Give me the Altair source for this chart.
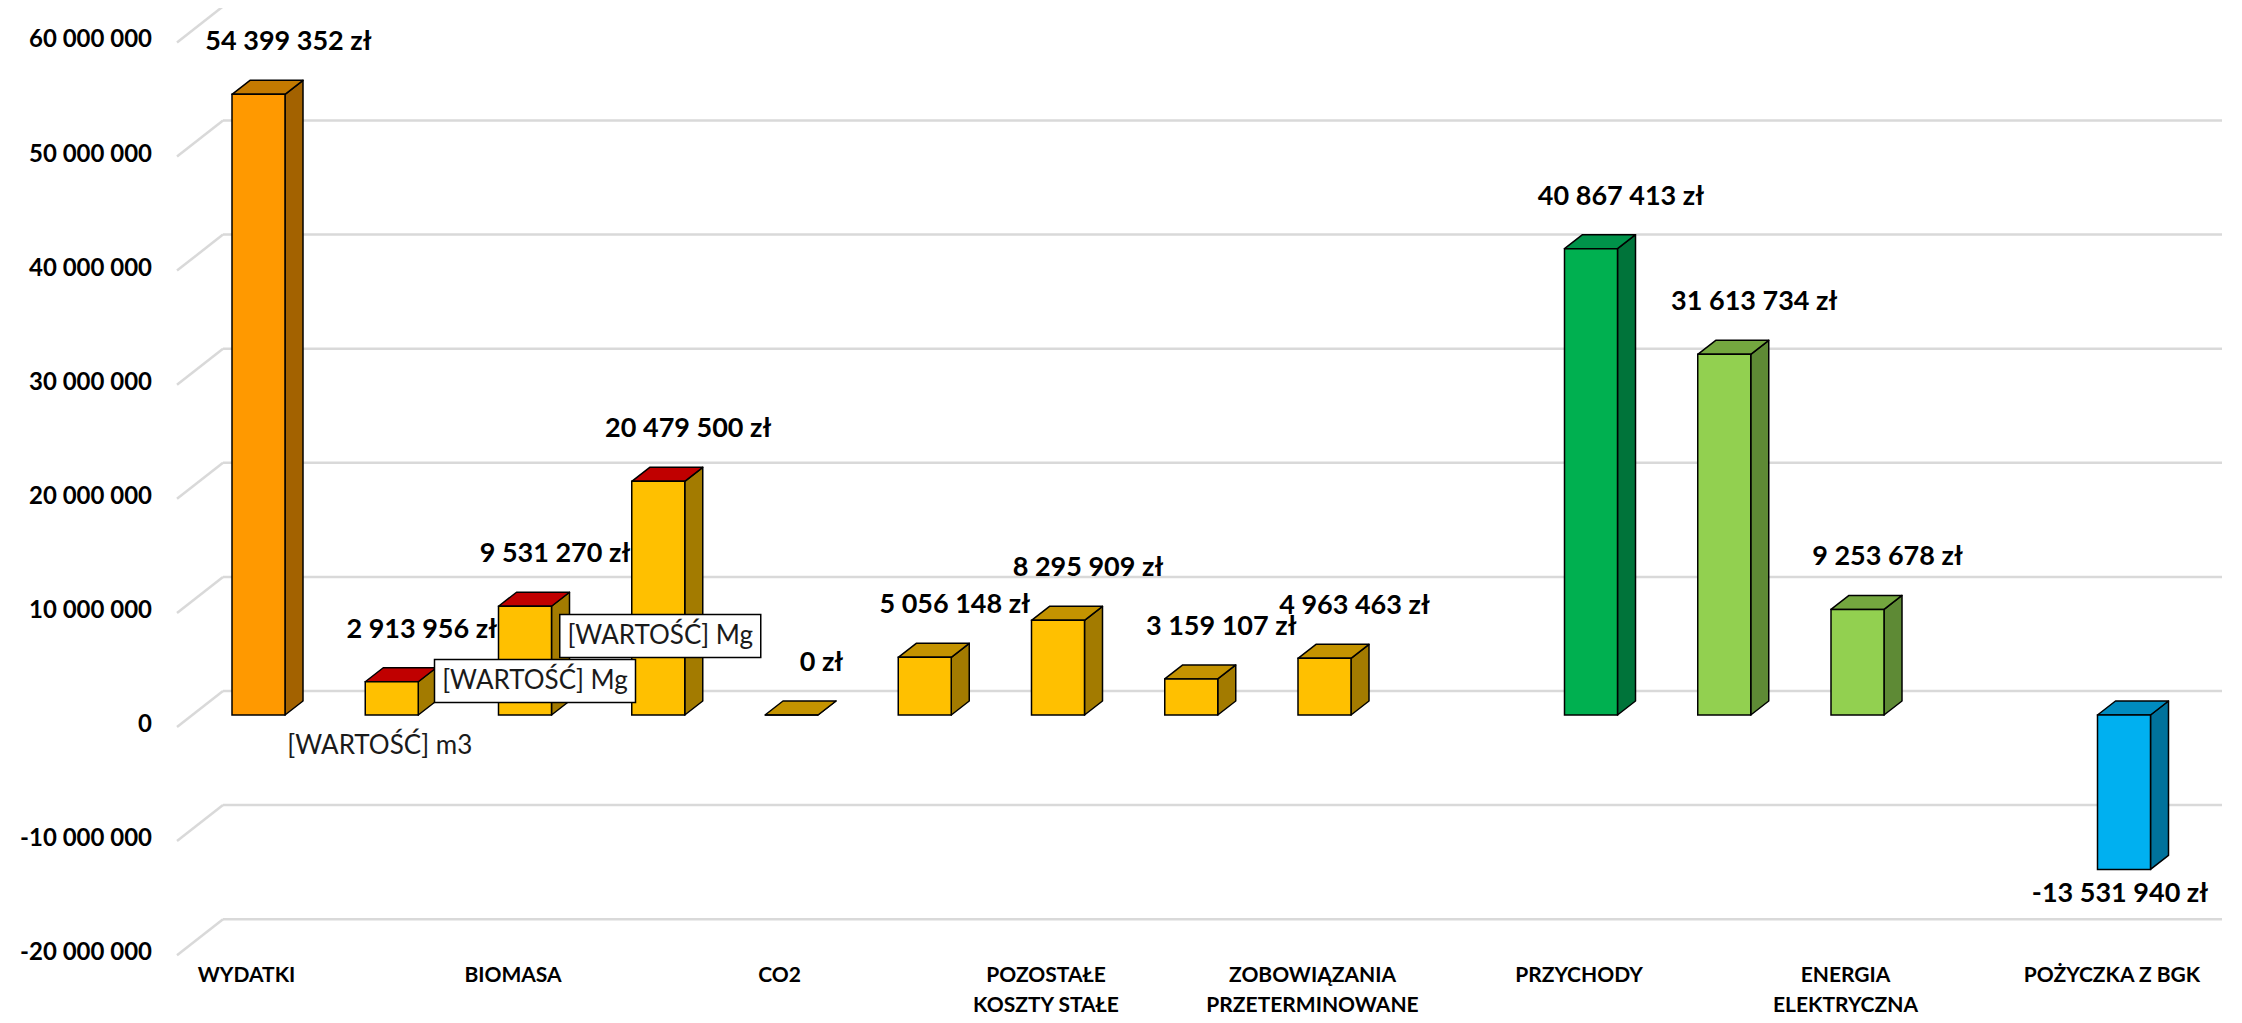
import altair as alt
import pandas as pd

# ---------------- data ----------------
slots = [0, 1, 2, 3, 4, 5, 6, 7, 8, 10, 11, 12, 14]
values = [54399352, 2913956, 9531270, 20479500, 0, 5056148, 8295909,
          3159107, 4963463, 40867413, 31613734, 9253678, -13531940]
groups = ["wydatki", "biomasa", "biomasa", "biomasa", "koszty", "koszty",
          "koszty", "koszty", "koszty", "przychody", "energia", "energia",
          "pozyczka"]

categories = ["WYDATKI", "BIOMASA", "CO2", "POZOSTAŁE\nKOSZTY STAŁE",
              "ZOBOWIĄZANIA\nPRZETERMINOWANE", "PRZYCHODY",
              "ENERGIA\nELEKTRYCZNA", "POŻYCZKA Z BGK"]
category_slots = [0, 2, 4, 6, 8, 10, 12, 14]

y_ticks = [-20000000, -10000000, 0, 10000000, 20000000, 30000000,
           40000000, 50000000, 60000000]

# ---------------- styles ----------------
STYLE = {  # front, side, top
    "wydatki": ("#FF9900", "#A36200", "#C47A00"),
    "biomasa": ("#FFC000", "#A37B00", "#C00000"),
    "koszty": ("#FFC000", "#A37B00", "#C49300"),
    "przychody": ("#00B050", "#00743A", "#00934A"),
    "energia": ("#92D050", "#5E8A35", "#74A73F"),
    "pozyczka": ("#00B0F0", "#00729C", "#008BBF"),
}

W, H = 2226, 1007
PX_SLOT = 133.25          # pixels per slot
PX_UNIT = 11.41e-6        # pixels per zł
ZERO_Y = 707              # plot px of value 0 (front plane)
SLOT0_X = 250.5           # plot px of slot 0
HALF_W = 26.5 / PX_SLOT
DX = 18 / PX_SLOT
DY = 14 / PX_UNIT

XS = alt.Scale(domain=[-SLOT0_X / PX_SLOT, (W - SLOT0_X) / PX_SLOT], nice=False, zero=False)
YS = alt.Scale(domain=[(ZERO_Y - H) / PX_UNIT, ZERO_Y / PX_UNIT], nice=False, zero=False)


def fmt(v):
    s = f"{abs(int(v)):,}".replace(",", " ")
    return ("-" if v < 0 else "") + s


front_rows, side_rows, top_rows, label_rows = [], [], [], []
for i, (s, v, g) in enumerate(zip(slots, values, groups)):
    fc, sc, tc = STYLE[g]
    l, r = s - HALF_W, s + HALF_W
    t, b = max(v, 0), min(v, 0)
    front_rows.append(dict(id=i, l=l, r=r, top=t, bottom=b, fill=fc))
    side_rows += [dict(id=i, x=r, y=t, y2=b, fill=sc),
                  dict(id=i, x=r + DX, y=t + DY, y2=b + DY, fill=sc)]
    top_rows += [dict(id=i, x=l, y=t, y2=t, fill=tc),
                 dict(id=i, x=l + DX, y=t + DY, y2=t, fill=tc),
                 dict(id=i, x=r, y=t + DY, y2=t, fill=tc),
                 dict(id=i, x=r + DX, y=t + DY, y2=t + DY, fill=tc)]
    label_rows.append(dict(slot=s, v=v, label=fmt(v) + " zł"))

front_df = pd.DataFrame(front_rows)
side_df = pd.DataFrame(side_rows)
top_df = pd.DataFrame(top_rows)
label_df = pd.DataFrame(label_rows)
tick_df = pd.DataFrame({"t": y_ticks, "label": [fmt(t) for t in y_ticks]})
cat_df = pd.DataFrame({"slot": category_slots, "cat": categories})

FONT = "Lato"
GRID = "#D9D9D9"

grid_h = alt.Chart(tick_df).mark_rule(color=GRID, strokeWidth=2.5, yOffset=-24, y2Offset=-24).encode(
    x=alt.value(215), x2=alt.value(2214),
    y=alt.Y("t:Q", scale=YS, axis=None), y2="t:Q")
grid_d = alt.Chart(tick_df).mark_rule(color=GRID, strokeWidth=2.5, yOffset=12, y2Offset=-24).encode(
    x=alt.value(169), x2=alt.value(215),
    y=alt.Y("t:Q", scale=YS, axis=None), y2="t:Q")
tick_labels = alt.Chart(tick_df).mark_text(
    align="right", baseline="middle", font=FONT, fontSize=24, fontWeight="bold",
    color="black", yOffset=10).encode(
    x=alt.value(144), y=alt.Y("t:Q", scale=YS, axis=None), text="label:N")

sides = alt.Chart(side_df).mark_area(stroke="black", strokeWidth=1.5, strokeJoin="round",
                                     interpolate="linear", opacity=1).encode(
    x=alt.X("x:Q", scale=XS, axis=None),
    y=alt.Y("y:Q", scale=YS, axis=None, stack=None), y2="y2:Q",
    detail="id:N", fill=alt.Fill("fill:N", scale=None))
tops = alt.Chart(top_df).mark_area(stroke="black", strokeWidth=1.5, strokeJoin="round",
                                   interpolate="linear", opacity=1).encode(
    x=alt.X("x:Q", scale=XS, axis=None),
    y=alt.Y("y:Q", scale=YS, axis=None, stack=None), y2="y2:Q",
    detail="id:N", fill=alt.Fill("fill:N", scale=None))
fronts = alt.Chart(front_df).mark_rect(stroke="black", strokeWidth=1.5).encode(
    x=alt.X("l:Q", scale=XS, axis=None), x2="r:Q",
    y=alt.Y("top:Q", scale=YS, axis=None), y2="bottom:Q",
    fill=alt.Fill("fill:N", scale=None))

val_pos = alt.Chart(label_df).transform_filter("datum.v >= 0").mark_text(
    align="center", baseline="middle", font=FONT, fontSize=27, fontWeight="bold",
    color="black", xOffset=30, yOffset=-52).encode(
    x=alt.X("slot:Q", scale=XS, axis=None), y=alt.Y("v:Q", scale=YS, axis=None), text="label:N")
val_neg = alt.Chart(label_df).transform_filter("datum.v < 0").mark_text(
    align="center", baseline="middle", font=FONT, fontSize=27, fontWeight="bold",
    color="black", xOffset=-4, yOffset=25).encode(
    x=alt.X("slot:Q", scale=XS, axis=None), y=alt.Y("v:Q", scale=YS, axis=None), text="label:N")

cat_labels = alt.Chart(cat_df).mark_text(
    align="center", baseline="top", font=FONT, fontSize=21, fontWeight="bold",
    color="black", lineBreak="\n", lineHeight=30, xOffset=-12).encode(
    x=alt.X("slot:Q", scale=XS, axis=None), y=alt.value(957), text="cat:N")

# broken Excel data labels of the secondary (unit) series
ann_df = pd.DataFrame({"slot": [1, 2, 3], "base": [0, 0, 0],
                       "text": ["[WARTOŚĆ] m3", "[WARTOŚĆ] Mg", "[WARTOŚĆ] Mg"]})
BOX = "M-1,-0.214L1,-0.214L1,0.214L-1,0.214Z"


def ann_layer(idx, dx, dy, boxed):
    d = ann_df.iloc[[idx]]
    enc = dict(x=alt.X("slot:Q", scale=XS, axis=None), y=alt.Y("base:Q", scale=YS, axis=None))
    layers = []
    if boxed:
        layers.append(alt.Chart(d).mark_point(
            shape=BOX, size=201 * 201, filled=True, fill="white", stroke="black",
            strokeWidth=1.5, opacity=1, fillOpacity=1, xOffset=dx, yOffset=dy).encode(**enc))
    layers.append(alt.Chart(d).mark_text(
        align="center", baseline="middle", font=FONT, fontSize=26, color="#1a1a1a",
        xOffset=dx, yOffset=dy).encode(text="text:N", **enc))
    return layers


ann = ann_layer(0, -12, 31, False) + ann_layer(1, 10, -34, True) + ann_layer(2, 2, -79, True)

chart = alt.layer(grid_h, grid_d, tick_labels, sides, tops, fronts, val_pos, val_neg,
                  cat_labels, *ann).properties(
    width=W, height=H, autosize=alt.AutoSizeParams(type="none"), padding=0,
    background="white").configure_view(stroke=None)

chart.save("out.html", embed_options={"renderer": "svg", "actions": False})
